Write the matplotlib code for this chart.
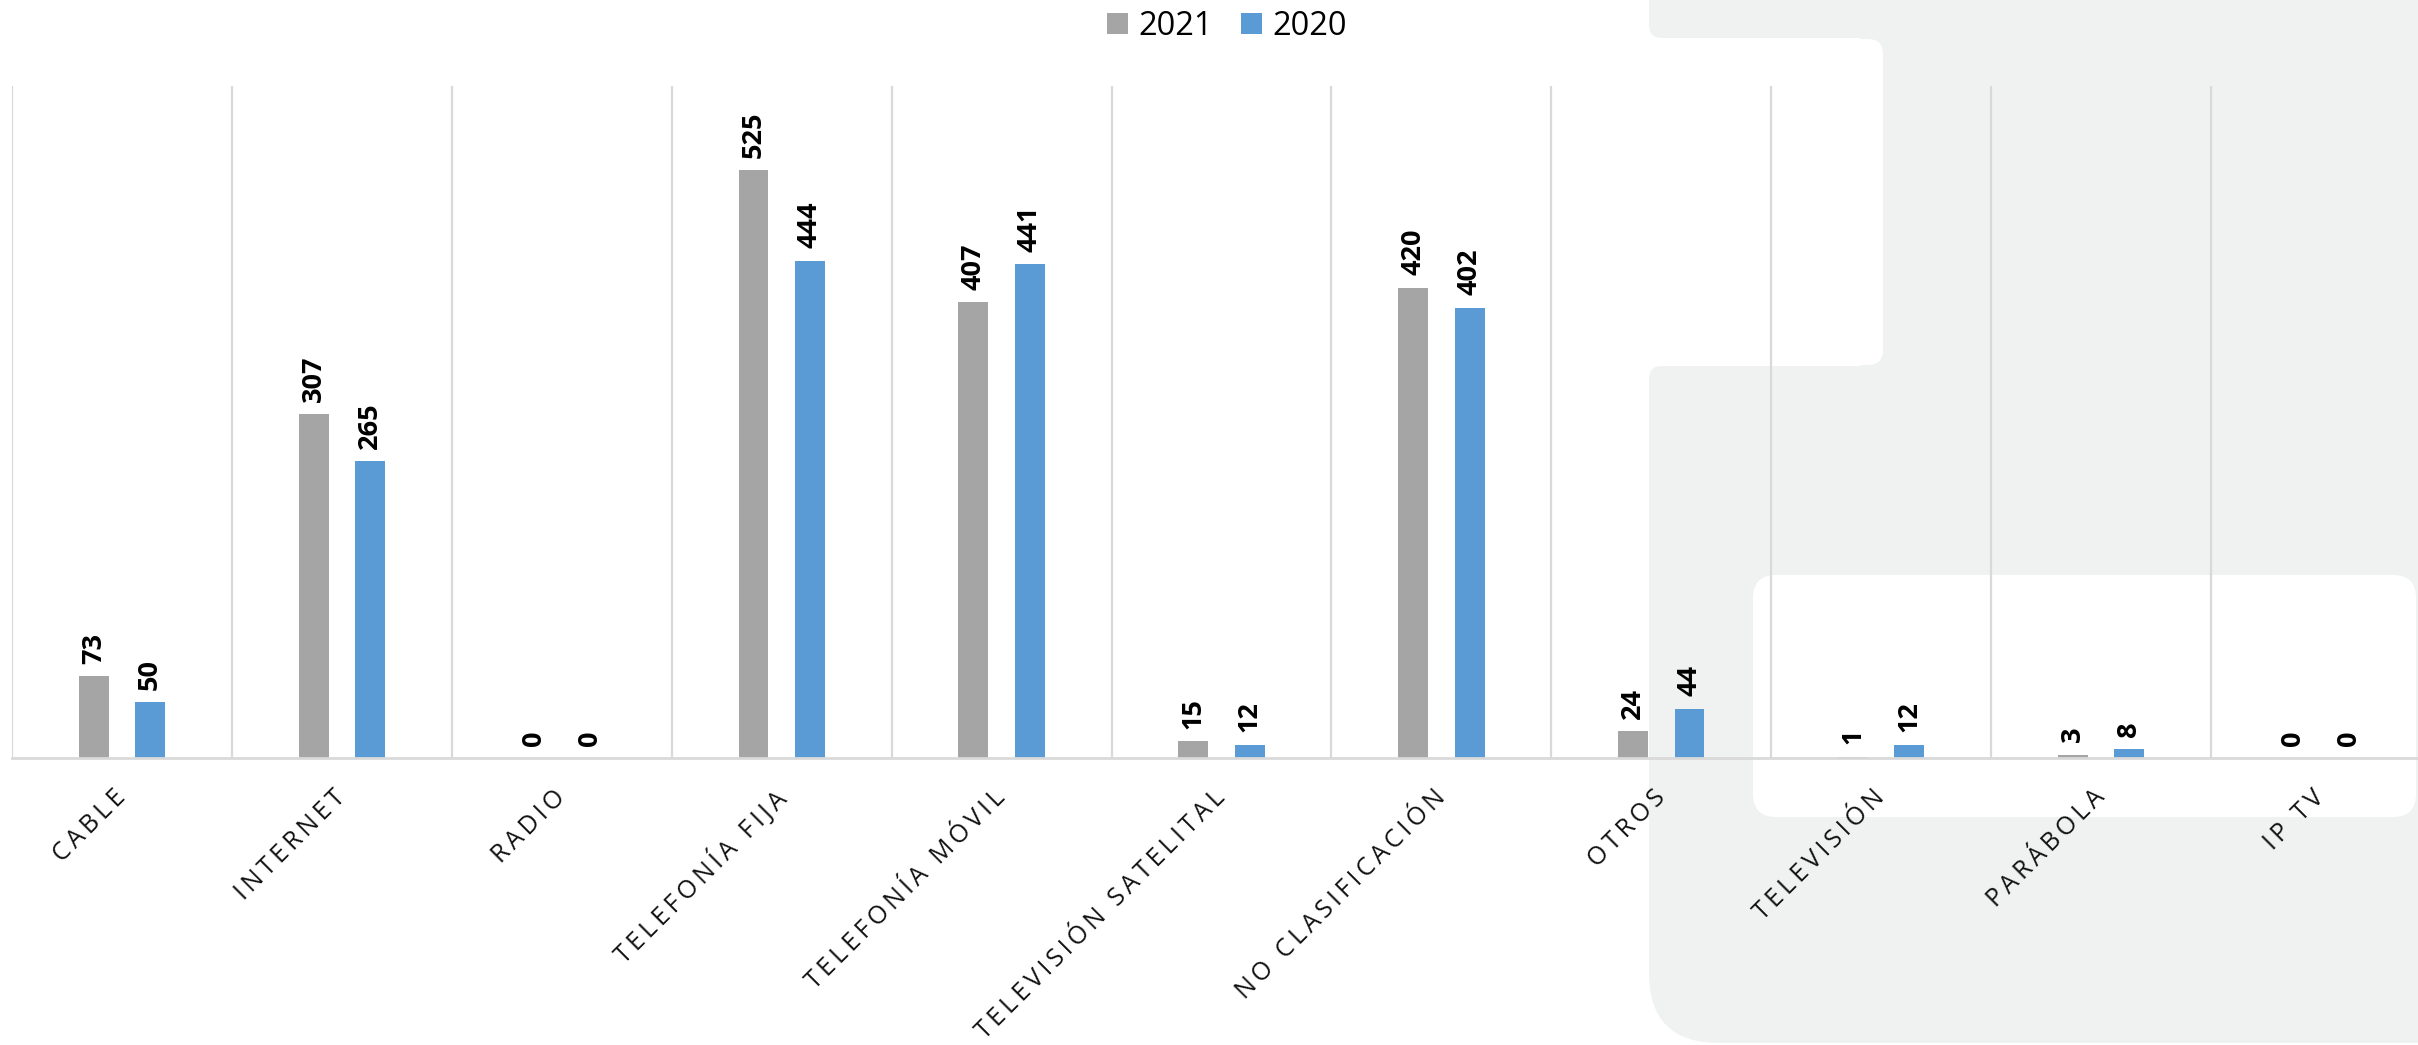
import matplotlib
matplotlib.use("Agg")
import matplotlib.pyplot as plt
import numpy as np
from matplotlib.patches import FancyBboxPatch, Rectangle
from matplotlib.transforms import Affine2D

# ---------------- data ----------------
categories = ["CABLE", "INTERNET", "RADIO", "TELEFONÍA FIJA", "TELEFONÍA MÓVIL",
              "TELEVISIÓN SATELITAL", "NO CLASIFICACIÓN", "OTROS", "TELEVISIÓN",
              "PARÁBOLA", "IP TV"]
values_2021 = [73, 307, 0, 525, 407, 15, 420, 24, 1, 3, 0]
values_2020 = [50, 265, 0, 444, 441, 12, 402, 44, 12, 8, 0]
series_names = ["2021", "2020"]

# ---------------- style ----------------
GRAY_BAR = "#A5A5A5"
BLUE_BAR = "#5B9BD5"
BG_GRAY = "#F0F1F1"
GRID = "#D9D9D9"

W, H = 2418, 1045
fig = plt.figure(figsize=(W / 100, H / 100), dpi=100)
fig.patch.set_facecolor("white")
px = Affine2D().scale(1 / W, 1 / H) + fig.transFigure


def shape(x0, y0, x1, y1, r, color):
    """Decorative background shape in pixel coords measured from the top."""
    if r > 0:
        p = FancyBboxPatch((x0, H - y1), x1 - x0, y1 - y0,
                           boxstyle=f"round,pad=0,rounding_size={r}",
                           transform=px, facecolor=color, edgecolor="none",
                           zorder=-10)
    else:
        p = Rectangle((x0, H - y1), x1 - x0, y1 - y0, transform=px,
                      facecolor=color, edgecolor="none", zorder=-10)
    fig.add_artist(p)


# decorative light-grey panel on the right
shape(1649, -60, 2600, 38, 13, BG_GRAY)
shape(1860, 20, 2600, 390, 0, BG_GRAY)
shape(1550, 39, 1883, 365, 15, "white")
shape(1649, 366, 2600, 900, 13, BG_GRAY)
shape(1649, 500, 2600, 1043, 70, BG_GRAY)
shape(1753, 575, 2416, 817, 23, "white")

# ---------------- axes ----------------
ax = fig.add_axes([12 / W, (H - 758) / H, 2419 / W, 672 / H])
ax.set_facecolor("none")

x = np.arange(len(categories))
bw = 0.136
off = 0.128
b1 = ax.bar(x - off, values_2021, bw, color=GRAY_BAR, label=series_names[0], zorder=3)
b2 = ax.bar(x + off, values_2020, bw, color=BLUE_BAR, label=series_names[1], zorder=3)

ax.set_xlim(-0.5, len(categories) - 0.5)
ax.set_ylim(0, 600)

# vertical separators between categories
ax.set_xticks(np.arange(len(categories) + 1) - 0.5, minor=True)
ax.grid(axis="x", which="minor", color=GRID, linewidth=1.6, zorder=0)
ax.grid(axis="x", which="major", visible=False)
ax.tick_params(axis="x", which="minor", length=0)
ax.set_yticks([])

for s in ["top", "right", "left"]:
    ax.spines[s].set_visible(False)
ax.spines["bottom"].set_color(GRID)
ax.spines["bottom"].set_linewidth(2)
ax.spines["bottom"].set_zorder(4)


def spaced(s):
    return "\u2009".join(s)


ax.set_xticks(x)
ax.set_xticklabels([spaced(c) for c in categories], rotation=45, ha="right",
                   va="center", rotation_mode="anchor", fontsize=18,
                   family=["Open Sans", "DejaVu Sans"], color="#111111")
ax.tick_params(axis="x", which="major", length=0, pad=26)

# data labels
for bars, vals in ((b1, values_2021), (b2, values_2020)):
    for rect, v in zip(bars, vals):
        ax.annotate(f"{v}", (rect.get_x() + rect.get_width() / 2, v),
                    xytext=(0, 9), textcoords="offset points", rotation=90,
                    ha="center", va="bottom", fontsize=19.5, fontweight="bold",
                    family="Open Sans", color="black", zorder=5)

# legend
fig.legend(handles=[b1, b2], labels=series_names, loc="center",
           bbox_to_anchor=(1227 / W, 1 - 26.5 / H), ncol=2, frameon=False,
           prop={"family": "Open Sans", "size": 23.5}, handlelength=0.64,
           handleheight=0.64, handletextpad=0.33, columnspacing=0.85)

fig.savefig("out.png", dpi=100, facecolor="white")
